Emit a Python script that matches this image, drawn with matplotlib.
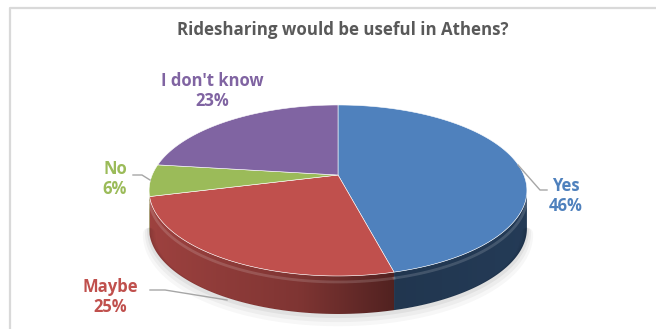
import numpy as np
import matplotlib.pyplot as plt
from matplotlib.patches import Polygon
from matplotlib.lines import Line2D
from matplotlib.colors import to_rgb

# data
labels = ['Yes', 'Maybe', 'No', "I don't know"]
values = [46, 25, 6, 23]
colors = ['#4F81BD', '#C0504D', '#9BBB59', '#8064A2']
title = 'Ridesharing would be useful in Athens?'

# pie geometry in pixels (simple perspective mapping of a disc)
cx, cy = 338, 175
A, B, k = 185.8, 82.7, 0.181
depth = 38


def project(theta, drop=0.0):
    # theta in degrees, clockwise from 12 o'clock
    t = np.radians(theta)
    u, v = np.sin(t), np.cos(t)
    w = 1 + k * v
    return cx + A * u / w, cy - B * v / w + drop


def shade(x):
    # brightness of the side wall along x
    return np.interp(x, [140, 300, 395, 530], [0.83, 0.66, 0.42, 0.46])


fig = plt.figure(figsize=(6.56, 3.29), dpi=100)
ax = fig.add_axes([0, 0, 1, 1])
ax.axis('off')

# chart frame
ax.plot([10, 10, 660], [340, 8, 8], color='#d9d9d9', lw=1.6, solid_capstyle='butt')

# soft shadow under the pie
for i, a in enumerate([0.05, 0.04, 0.03]):
    tt = np.linspace(100, 260, 80)
    xs, ys = project(tt, depth + 2 + 2 * i)
    ax.plot(xs, ys, color='black', alpha=a, lw=3 + 3 * i, solid_capstyle='round')

total = float(sum(values))
bounds = np.concatenate([[0], np.cumsum(values) / total * 360])
vis_lo = 90 + np.degrees(np.arcsin(k))
vis_hi = 270 - np.degrees(np.arcsin(k))

# side walls, a horizontal gradient clipped to each slice's wall
gx = np.linspace(140, 535, 400)
for i, col in enumerate(colors):
    a0, a1 = max(bounds[i], vis_lo), min(bounds[i + 1], vis_hi)
    if a1 <= a0:
        continue
    tt = np.linspace(a0, a1, 150)
    xs, ys = project(tt)
    pts = list(zip(xs, ys)) + list(zip(xs[::-1], ys[::-1] + depth))
    wall = Polygon(pts, closed=True, fc='none', ec='none')
    ax.add_patch(wall)
    grad = np.clip(np.array(to_rgb(col))[None, None, :] * shade(gx)[None, :, None], 0, 1)
    im = ax.imshow(grad, extent=[gx[0], gx[-1], 330, 140], aspect='auto',
                   interpolation='bilinear')
    im.set_clip_path(wall)
    # highlight near the rim
    hx, hy = project(np.linspace(a0, a1, 60), 6)
    ax.plot(hx, hy, color='white', alpha=0.15, lw=2)

# top faces
for i, col in enumerate(colors):
    tt = np.linspace(bounds[i], bounds[i + 1], 120)
    xs, ys = project(tt)
    pts = [(cx, cy)] + list(zip(xs, ys))
    ax.add_patch(Polygon(pts, closed=True, fc=col, ec='white', lw=0.4))

# title
ax.text(343, 30, title, ha='center', va='center', fontsize=12.2, fontweight='bold',
        color='#595959', family='Open Sans')

# data labels and leader lines
lab_pos = [(566, 196), (110, 297), (115, 179), (212, 91)]
leaders = [
    [(518, 165), (540, 190), (547, 190)],
    [(227, 300), (165, 290), (150, 290)],
    [(150, 180), (142, 175), (133, 175)],
    None,
]
for i, lab in enumerate(labels):
    x, y = lab_pos[i]
    ax.text(x, y, f'{lab}\n{values[i]}%', ha='center', va='center', fontsize=12,
            fontweight='bold', color=colors[i], family='Open Sans', linespacing=1.2)
    if leaders[i]:
        px, py = zip(*leaders[i])
        ax.add_line(Line2D(px, py, color='#A6A6A6', lw=1))

ax.set_xlim(0, 656)
ax.set_ylim(329, 0)
fig.savefig('out.png', dpi=100)
